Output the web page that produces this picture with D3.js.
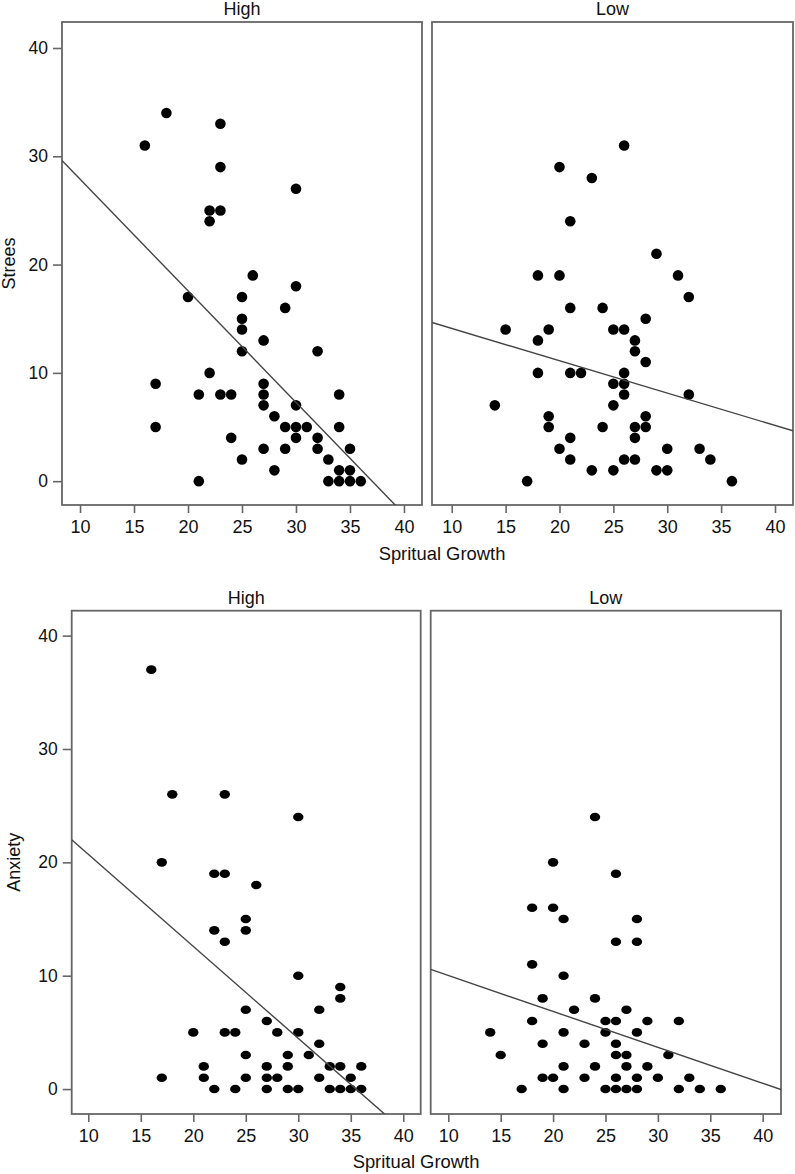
<!DOCTYPE html>
<html><head><meta charset="utf-8">
<script src="https://cdn.jsdelivr.net/npm/d3@7"></script>
<style>body{margin:0;background:#fff}svg{display:block}</style>
</head><body>
<svg id="c" width="795" height="1174"></svg>
<script>
// ---- data ----
const panelTitles = ["High", "Low"];
const yTitles = ["Strees", "Anxiety"];
const xTitle = "Spritual Growth";
const xTicks = [10, 15, 20, 25, 30, 35, 40];
const yTicks = [0, 10, 20, 30, 40];

const stressHighX = [16,18,23,23,22,23,22,30,26,30,20,25,29,25,25,27,25,32,22,17,27,21,23,24,27,34,27,30,28,17,29,30,31,34,24,30,32,27,29,32,35,25,33,28,34,35,21,33,34,35,36];
const stressHighY = [31,34,33,29,25,25,24,27,19,18,17,17,16,15,14,13,12,12,10,9,9,8,8,8,8,8,7,7,6,5,5,5,5,5,4,4,4,3,3,3,3,2,2,1,1,1,0,0,0,0,0];

const stressLowX = [26,20,23,21,29,18,20,31,32,21,24,28,15,19,25,26,18,27,27,28,18,21,22,26,25,26,26,32,14,25,19,28,19,24,27,28,21,27,20,30,33,21,26,27,34,23,25,29,30,17,36];
const stressLowY = [31,29,28,24,21,19,19,19,17,16,16,15,14,14,14,14,13,13,12,11,10,10,10,10,9,9,8,8,7,7,6,6,5,5,5,5,4,4,3,3,3,2,2,2,2,1,1,1,1,0,0];

const anxHighX = [16,18,23,30,17,22,23,26,25,22,25,23,30,34,34,25,32,27,20,23,24,28,30,32,25,29,31,21,27,29,33,34,36,17,21,25,27,28,32,35,22,24,27,29,30,33,34,35,36];
const anxHighY = [37,26,26,24,20,19,19,18,15,14,14,13,10,9,8,7,7,6,5,5,5,5,5,4,3,3,3,2,2,2,2,2,2,1,1,1,1,1,1,1,0,0,0,0,0,0,0,0,0];

const anxLowX = [24,20,26,18,20,21,28,26,28,18,21,19,24,22,27,18,25,26,29,32,14,21,25,28,19,23,26,15,26,27,31,21,24,27,29,19,20,23,26,28,30,33,17,21,25,26,27,28,32,34,36];
const anxLowY = [24,20,19,16,16,15,15,13,13,11,10,8,8,7,7,6,6,6,6,6,5,5,5,5,4,4,4,3,3,3,3,2,2,2,2,1,1,1,1,1,1,1,0,0,0,0,0,0,0,0,0];

// fitted lines (intercept, slope)
const fitIntercepts = [38.2, 17.09, 28.83, 13.19];
const fitSlopes = [-1.031, -0.2986, -0.812, -0.317];

// ---- layout ----
const FONT = "'Liberation Sans', Arial, Helvetica, sans-serif";
const frameColor = "#666";
const panels = [
  {xs: stressHighX, ys: stressHighY, t: 0, row: 0, col: 0, x0: 62,    x1: 422,   y0: 22,    y1: 505,  xd: [8.33, 41.67], yd: [-2.2, 42.4], rx: 5.3, ry: 5.3},
  {xs: stressLowX,  ys: stressLowY,  t: 1, row: 0, col: 1, x0: 432,   x1: 793,   y0: 22,    y1: 505,  xd: [8.17, 41.67], yd: [-2.2, 42.4], rx: 5.3, ry: 5.3},
  {xs: anxHighX,    ys: anxHighY,    t: 0, row: 1, col: 0, x0: 71.7,  x1: 420.7, y0: 610.7, y1: 1114, xd: [8.42, 41.66], yd: [-2.2, 42.2], rx: 5.2, ry: 4.3},
  {xs: anxLowX,     ys: anxLowY,     t: 1, row: 1, col: 1, x0: 430.7, x1: 781,   y0: 610.7, y1: 1114, xd: [8.32, 41.75], yd: [-2.2, 42.2], rx: 5.2, ry: 4.3}
];

const svg = d3.select("#c");
svg.append("rect").attr("width", 795).attr("height", 1174).attr("fill", "#fff");

panels.forEach((p, i) => {
  const x = d3.scaleLinear().domain(p.xd).range([p.x0, p.x1]);
  const y = d3.scaleLinear().domain(p.yd).range([p.y1, p.y0]);
  const g = svg.append("g");

  const clipId = "clip" + i;
  svg.append("clipPath").attr("id", clipId)
    .append("rect").attr("x", p.x0).attr("y", p.y0)
    .attr("width", p.x1 - p.x0).attr("height", p.y1 - p.y0);

  // title
  g.append("text").attr("x", (p.x0 + p.x1) / 2).attr("y", p.y0 - 7)
    .attr("text-anchor", "middle").attr("font-family", FONT).attr("font-size", 18)
    .attr("fill", "#111").text(panelTitles[p.t]);

  // x axis
  const xa = g.append("g").attr("transform", `translate(0,${p.y1})`)
    .call(d3.axisBottom(x).tickValues(xTicks).tickSize(8).tickPadding(7).tickFormat(d3.format("d")));
  xa.select(".domain").remove();
  xa.selectAll(".tick line").attr("stroke", frameColor).attr("stroke-width", 1.6);
  xa.selectAll(".tick text").attr("font-family", FONT).attr("font-size", 18).attr("fill", "#111");

  // y axis on left panels
  if (p.col === 0) {
    const ya = g.append("g").attr("transform", `translate(${p.x0},0)`)
      .call(d3.axisLeft(y).tickValues(yTicks).tickSize(9).tickPadding(5).tickFormat(d3.format("d")));
    ya.select(".domain").remove();
    ya.selectAll(".tick line").attr("stroke", frameColor).attr("stroke-width", 1.6);
    ya.selectAll(".tick text").attr("font-family", FONT).attr("font-size", 17.5).attr("fill", "#111");

    const cy = (p.y0 + p.y1) / 2;
    const bx = p.row === 0 ? 15 : 20;
    g.append("text").attr("transform", `translate(${bx},${cy}) rotate(-90)`)
      .attr("text-anchor", "middle").attr("font-family", FONT).attr("font-size", 18)
      .attr("fill", "#111").text(yTitles[p.row]);
  }

  // frame
  g.append("rect").attr("x", p.x0).attr("y", p.y0)
    .attr("width", p.x1 - p.x0).attr("height", p.y1 - p.y0)
    .attr("fill", "none").attr("stroke", frameColor).attr("stroke-width", 1.8);

  // points
  g.append("g").selectAll("ellipse").data(d3.range(p.xs.length)).join("ellipse")
    .attr("cx", k => x(p.xs[k])).attr("cy", k => y(p.ys[k]))
    .attr("rx", p.rx).attr("ry", p.ry).attr("fill", "#000");

  // fit line
  const a = fitIntercepts[i], b = fitSlopes[i];
  g.append("line").attr("clip-path", `url(#${clipId})`)
    .attr("x1", x(p.xd[0])).attr("y1", y(a + b * p.xd[0]))
    .attr("x2", x(p.xd[1])).attr("y2", y(a + b * p.xd[1]))
    .attr("stroke", "#444").attr("stroke-width", 1.4);
});

// x titles
svg.append("text").attr("x", 442).attr("y", 560).attr("text-anchor", "middle")
  .attr("font-family", FONT).attr("font-size", 18.4).attr("fill", "#111").text(xTitle);
svg.append("text").attr("x", 416).attr("y", 1168).attr("text-anchor", "middle")
  .attr("font-family", FONT).attr("font-size", 18.4).attr("fill", "#111").text(xTitle);
</script>
</body></html>
